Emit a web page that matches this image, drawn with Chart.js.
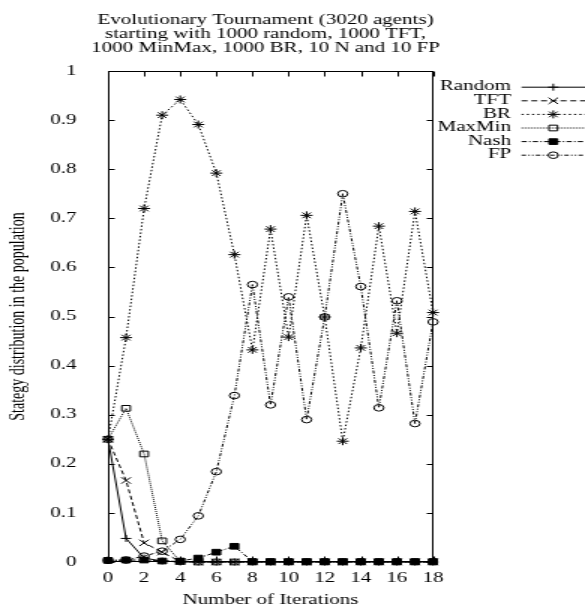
<!DOCTYPE html>
<html>
<head>
<meta charset="utf-8">
<script src="https://cdn.jsdelivr.net/npm/chart.js@4/dist/chart.umd.min.js"></script>
<style>
    html, body { margin: 0; padding: 0; background: #fff; overflow: hidden; }
    /* la figura original esta estirada en horizontal */
    #wrap { width: 390px; height: 609px; transform: scaleX(1.5); transform-origin: 0 0; }
    #chart { display: block; width: 390px; height: 609px; }
</style>
</head>
<body>
<div id="wrap"><canvas id="chart" width="390" height="609"></canvas></div>
<script>
// Datos
const iterations = [0, 1, 2, 3, 4, 5, 6, 7, 8, 9, 10, 11, 12, 13, 14, 15, 16, 17, 18];

const randomData = [0.25, 0.048, 0.008, 0.002, 0, 0, 0, 0, 0, 0, 0, 0, 0, 0, 0, 0, 0, 0, 0];
const tftData    = [0.25, 0.166, 0.039, 0.02, 0.001, 0, 0, 0, 0, 0, 0, 0, 0, 0, 0, 0, 0, 0, 0];
const brData     = [0.25, 0.457, 0.72, 0.91, 0.942, 0.891, 0.792, 0.626, 0.432, 0.678, 0.458, 0.706, 0.499, 0.246, 0.436, 0.684, 0.466, 0.714, 0.508];
const maxminData = [0.25, 0.313, 0.22, 0.043, 0.001, 0, 0, 0, 0, 0, 0, 0, 0, 0, 0, 0, 0, 0, 0];
const nashData   = [0.0033, 0.004, 0.004, 0.002, 0.002, 0.008, 0.02, 0.032, 0.001, 0.001, 0.001, 0.001, 0.001, 0.001, 0.001, 0.001, 0.001, 0.001, 0.001];
const fpData     = [0.0033, 0.004, 0.012, 0.022, 0.046, 0.094, 0.184, 0.339, 0.565, 0.32, 0.54, 0.29, 0.499, 0.75, 0.561, 0.314, 0.532, 0.282, 0.489];

const titleLines = [
    'Evolutionary Tournament (3020 agents)',
    'starting with 1000 random, 1000 TFT,',
    '1000 MinMax, 1000 BR, 10 N and 10 FP'
];
const xTitle = 'Number of Iterations';
const yTitle = 'Stategy distribution in the population';

const serif = 'Liberation Serif';

function toPoints(values) {
    return iterations.map((x, i) => ({ x: x, y: values[i] }));
}

function serie(label, values, dash, style, radius, filled) {
    return {
        label: label,
        data: toPoints(values),
        borderColor: '#000',
        borderWidth: 1,
        borderDash: dash,
        pointStyle: style,
        pointRadius: radius,
        pointBorderWidth: 1,
        pointBorderColor: '#000',
        pointBackgroundColor: filled ? '#000' : 'rgba(0,0,0,0)',
        tension: 0,
        clip: false
    };
}

// Marco con marcas hacia adentro (estilo gnuplot)
const frameTicks = {
    id: 'frameTicks',
    beforeDatasetsDraw(chart) {
        const { ctx, chartArea: a, scales } = chart;
        const L = Math.round(a.left) + 0.5, R = Math.round(a.right) - 0.5;
        const T = Math.round(a.top) + 0.5, B = Math.round(a.bottom) - 0.5;
        ctx.save();
        ctx.strokeStyle = '#000';
        ctx.lineWidth = 1;
        ctx.strokeRect(L, T, R - L, B - T);
        ctx.beginPath();
        scales.x.ticks.forEach(t => {
            const px = Math.round(scales.x.getPixelForValue(t.value)) + 0.5;
            ctx.moveTo(px, B); ctx.lineTo(px, B - 5);
            ctx.moveTo(px, T); ctx.lineTo(px, T + 5);
        });
        scales.y.ticks.forEach(t => {
            const py = Math.round(scales.y.getPixelForValue(t.value)) + 0.5;
            ctx.moveTo(L, py); ctx.lineTo(L + 4, py);
        });
        scales.yRight.ticks.forEach(t => {
            const py = Math.round(scales.yRight.getPixelForValue(t.value)) + 0.5;
            ctx.moveTo(R, py); ctx.lineTo(R - 4, py);
        });
        ctx.stroke();
        ctx.restore();
    }
};

// Leyenda a la derecha: texto alineado a la derecha y muestra de linea
const sideLegend = {
    id: 'sideLegend',
    afterDraw(chart) {
        const { ctx, chartArea: a } = chart;
        const textRight = a.right + 52;
        const lineStart = a.right + 59;
        const lineEnd = chart.width;
        const markX = (lineStart + lineEnd) / 2;
        ctx.save();
        ctx.font = '14px "' + serif + '"';
        ctx.textAlign = 'right';
        ctx.textBaseline = 'middle';
        chart.data.datasets.forEach((ds, i) => {
            const y = a.top + 15.7 + i * 13.6;
            ctx.fillStyle = '#000';
            ctx.fillText(ds.label, textRight, y);
            ctx.beginPath();
            ctx.setLineDash(ds.borderDash || []);
            ctx.strokeStyle = ds.borderColor;
            ctx.lineWidth = ds.borderWidth;
            ctx.moveTo(lineStart, y + 0.5);
            ctx.lineTo(lineEnd, y + 0.5);
            ctx.stroke();
            ctx.setLineDash([]);
            ctx.fillStyle = ds.pointBackgroundColor;
            ctx.strokeStyle = ds.pointBorderColor;
            Chart.helpers.drawPoint(ctx, {
                pointStyle: ds.pointStyle,
                radius: ds.pointRadius,
                borderWidth: ds.pointBorderWidth,
                rotation: 0
            }, markX, y + 0.5);
        });
        ctx.restore();
    }
};

new Chart(document.getElementById('chart'), {
    type: 'line',
    data: {
        datasets: [
            serie('Random', randomData, [], 'cross', 3.5, false),
            serie('TFT', tftData, [4, 2.5], 'crossRot', 4.5, false),
            serie('BR', brData, [1.5, 2], 'star', 4, false),
            serie('MaxMin', maxminData, [1, 1], 'rect', 4, false),
            serie('Nash', nashData, [3.5, 1.5, 1, 1.5], 'rect', 4, true),
            serie('FP', fpData, [3, 1.5, 1, 1.5, 1, 1.5], 'circle', 3.3, false)
        ]
    },
    options: {
        responsive: false,
        animation: false,
        layout: { padding: { left: 0, right: 36, top: 0, bottom: 0 } },
        plugins: {
            legend: { display: false },
            tooltip: { enabled: false },
            title: {
                display: true,
                text: titleLines,
                color: '#000',
                font: { family: serif, size: 14, weight: 'normal', lineHeight: 1.0 },
                padding: { top: 13, bottom: 16 }
            }
        },
        scales: {
            x: {
                type: 'linear',
                min: 0,
                max: 18,
                grid: { display: false, drawTicks: false },
                border: { display: false },
                ticks: {
                    stepSize: 2,
                    color: '#000',
                    padding: 8,
                    font: { family: serif, size: 14 }
                },
                title: {
                    display: true,
                    text: xTitle,
                    color: '#000',
                    font: { family: serif, size: 14 },
                    padding: { top: 0, bottom: 0.6 }
                },
                afterFit: s => { s.height = 47; }
            },
            y: {
                min: 0,
                max: 1,
                grid: { display: false, drawTicks: false },
                border: { display: false },
                ticks: {
                    stepSize: 0.1,
                    color: '#000',
                    padding: 21,
                    font: { family: serif, size: 14 },
                    callback: v => String(Number(v.toFixed(2)))
                },
                title: {
                    display: true,
                    text: yTitle,
                    color: '#000',
                    font: { family: serif, size: 14 },
                    padding: { top: 3.6, bottom: 0 }
                },
                afterFit: s => { s.width = 72; }
            },
            yRight: {
                position: 'right',
                min: 0,
                max: 1,
                grid: { display: false, drawTicks: false },
                border: { display: false },
                ticks: { stepSize: 0.1, display: false },
                afterFit: s => { s.width = 65.3; }
            }
        }
    },
    plugins: [frameTicks, sideLegend]
});
</script>
</body>
</html>
